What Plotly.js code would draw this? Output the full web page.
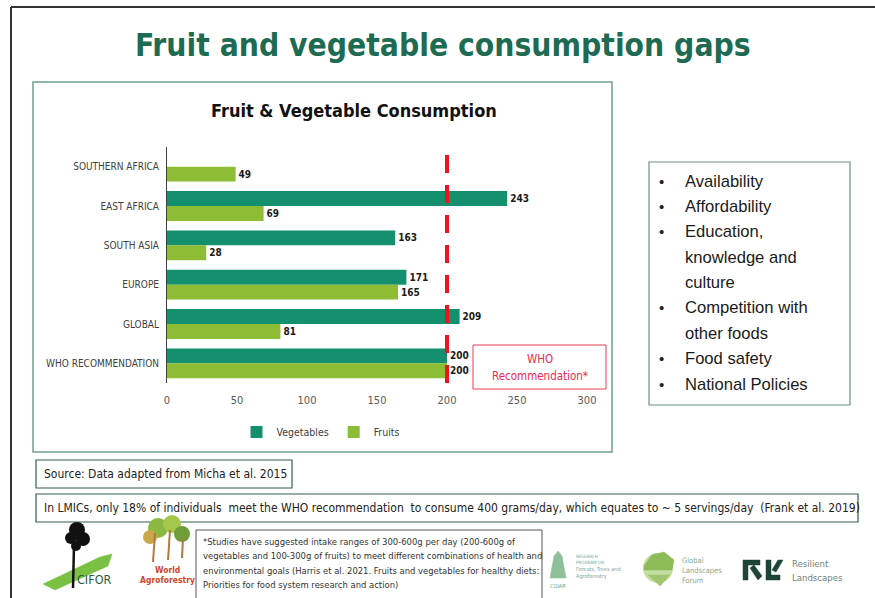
<!DOCTYPE html>
<html>
<head>
<meta charset="utf-8">
<script src="https://cdn.plot.ly/plotly-3.0.1.min.js"></script>
<style>
html,body{margin:0;padding:0;background:#fff;}
#chart{width:875px;height:598px;}
</style>
</head>
<body>
<div id="chart"></div>
<script>
// ---- data ----
const categories = ["SOUTHERN AFRICA", "EAST AFRICA", "SOUTH ASIA", "EUROPE", "GLOBAL", "WHO RECOMMENDATION"];
const vegetables = [null, 243, 163, 171, 209, 200];
const fruits = [49, 69, 28, 165, 81, 200];
const seriesNames = ["Vegetables", "Fruits"];
const whoThreshold = 200;
const xTicks = [0, 50, 100, 150, 200, 250, 300];
const bulletItems = [["Availability"], ["Affordability"], ["Education,", "knowledge and", "culture"], ["Competition with", "other foods"], ["Food safety"], ["National Policies"]];
const footnoteLines = [
  "*Studies have suggested intake ranges of 300-600g per day (200-600g of",
  "vegetables and 100-300g of fruits) to meet different combinations of health and",
  "environmental goals (Harris et al. 2021. Fruits and vegetables for healthy diets:",
  "Priorities for food system research and action)"
];

// ---- geometry helpers (pixel -> paper) ----
const L = 167, R = 587, T = 147, B = 383;
const W = 875, H = 598;
const px = v => (v - L) / (R - L);
const py = v => (B - v) / (B - T);

const NARROW = "'DejaVu Sans Condensed', 'Liberation Sans Narrow', sans-serif";
const ARIAL = "'Liberation Sans', Arial, sans-serif";

const traces = [
  {
    type: "bar", orientation: "h", name: seriesNames[0],
    y: categories, x: vegetables,
    marker: {color: "#14906f"},
    text: vegetables.map(v => v == null ? "" : String(v)),
    textposition: "outside", cliponaxis: false,
    textfont: {family: NARROW, size: 10, color: "#1a1a1a", weight: "bold"},
    hoverinfo: "x+y"
  },
  {
    type: "bar", orientation: "h", name: seriesNames[1],
    y: categories, x: fruits,
    marker: {color: "#8cbd35"},
    text: fruits.map(v => String(v)),
    textposition: "outside", cliponaxis: false,
    textfont: {family: NARROW, size: 10, color: "#1a1a1a", weight: "bold"},
    hoverinfo: "x+y"
  }
];

const shapes = [];
const annotations = [];

function rectPx(x0, y0, x1, y1, color, width, fill) {
  shapes.push({type: "rect", xref: "paper", yref: "paper", x0: px(x0), x1: px(x1), y0: py(y0), y1: py(y1),
    line: {color: color, width: width}, fillcolor: fill || "rgba(0,0,0,0)", layer: "below"});
}
function linePx(x0, y0, x1, y1, color, width) {
  shapes.push({type: "line", xref: "paper", yref: "paper", x0: px(x0), x1: px(x1), y0: py(y0), y1: py(y1),
    line: {color: color, width: width}});
}
function textPx(x, y, text, size, color, family, anchor, bold) {
  annotations.push({xref: "paper", yref: "paper", x: px(x), y: py(y), text: text, showarrow: false,
    xanchor: anchor || "left", yanchor: "middle",
    font: {size: size, color: color, family: family, weight: bold ? "bold" : "normal"}});
}
function pathPx(pts, fill, lineColor) {
  let d = pts.map((p, i) => (i ? "L" : "M") + px(p[0]) + "," + py(p[1])).join(" ") + " Z";
  shapes.push({type: "path", xref: "paper", yref: "paper", path: d, fillcolor: fill,
    line: {color: lineColor || fill, width: 0.5}});
}
function circlePx(cx, cy, r, fill) {
  shapes.push({type: "circle", xref: "paper", yref: "paper", x0: px(cx - r), x1: px(cx + r), y0: py(cy + r), y1: py(cy - r),
    fillcolor: fill, line: {width: 0}});
}

// outer frame
linePx(11, 7, 875, 7, "#333333", 2);
linePx(11, 7, 11, 598, "#333333", 2);

// chart frame
rectPx(33, 82, 612, 452, "#6f9f8f", 1.5);

// WHO threshold line (data coords)
shapes.push({type: "line", xref: "x", yref: "paper", x0: whoThreshold, x1: whoThreshold, y0: 0, y1: py(149),
  line: {color: "#f5101e", width: 4, dash: "18px,12px"}, layer: "above"});

// WHO recommendation box
rectPx(473, 345, 606, 389, "#ee3a55", 1);
textPx(540, 359, "WHO", 11.5, "#f0284e", NARROW, "center");
textPx(540, 376, "Recommendation*", 11.5, "#f0284e", NARROW, "center");

// titles
textPx(443, 45, "Fruit and vegetable consumption gaps", 31.5, "#1d6b52", NARROW, "center", true);
textPx(354, 110, "Fruit &amp; Vegetable Consumption", 18, "#111111", NARROW, "center", true);

// bullet box
rectPx(649, 162, 850, 405, "#6f8f85", 1.2);
let lineY = 181;
bulletItems.forEach(item => {
  item.forEach((ln, i) => {
    if (i === 0) textPx(661, lineY, "•", 15, "#222222", ARIAL, "center");
    textPx(683, lineY, ln, 16.6, "#1a1a1a", ARIAL, "left");
    lineY += 25.4;
  });
});

// source box
rectPx(36, 460, 292, 488, "#2f5e4e", 1.2);
textPx(42, 474, "Source: Data adapted from Micha et al. 2015", 12, "#222222", NARROW, "left");

// LMIC box
rectPx(36, 494, 858, 522, "#2f5e4e", 1.2);
textPx(42, 508, "In LMICs, only 18% of individuals  meet the WHO recommendation  to consume 400 grams/day, which equates to ~ 5 servings/day  (Frank et al. 2019)", 12, "#222222", NARROW, "left");

// footnote box
rectPx(196, 530, 542, 603, "#555555", 1);
footnoteLines.forEach((t, i) => textPx(201, 541 + i * 14.5, t, 9.4, "#333333", NARROW, "left"));

// CIFOR logo (approximation)
pathPx([[43, 584], [100, 557], [112, 554], [108, 566], [55, 590]], "#79c043");
circlePx(77, 530, 8, "#111111");
circlePx(71, 538, 6, "#111111");
circlePx(83, 539, 7, "#111111");
circlePx(76, 546, 5, "#111111");
linePx(74, 545, 73, 588, "#111111", 2.5);
textPx(94, 579, "CIFOR", 12.5, "#2a5a44", NARROW, "center");

// World Agroforestry logo (approximation)
circlePx(158, 528, 10, "#8ab842");
circlePx(172, 524, 9, "#a5c84a");
circlePx(182, 534, 8, "#6e9e38");
circlePx(150, 537, 7, "#c8a64a");
linePx(155, 533, 153, 562, "#b07a3c", 2);
linePx(170, 530, 168, 560, "#b07a3c", 2);
linePx(183, 538, 182, 558, "#b07a3c", 2);
textPx(167, 570, "World", 8.5, "#d2452a", NARROW, "center", true);
textPx(167, 580, "Agroforestry", 8.5, "#d2452a", NARROW, "center", true);

// right-side partner logos (faded approximations)
pathPx([[550, 578], [554, 556], [558, 551], [562, 556], [566, 578]], "#8fc09a");
textPx(558, 586, "CGIAR", 5.5, "#6aa68a", NARROW, "center");
textPx(574, 556, "RESEARCH", 4.5, "#7aa89a", NARROW, "left");
textPx(574, 562, "PROGRAM ON", 4.5, "#7aa89a", NARROW, "left");
textPx(574, 569, "Forests, Trees and", 5.5, "#7aa89a", NARROW, "left");
textPx(574, 576, "Agroforestry", 5.5, "#7aa89a", NARROW, "left");

circlePx(658, 568, 15, "#c3dca0");
pathPx([[644, 566], [652, 555], [664, 552], [674, 560], [672, 570], [644, 570]], "#8dbb57");
pathPx([[648, 575], [670, 575], [660, 586]], "#9fc66e");
textPx(680, 560, "Global", 7.5, "#8aa890", NARROW, "left");
textPx(680, 570, "Landscapes", 7.5, "#8aa890", NARROW, "left");
textPx(680, 580, "Forum", 7.5, "#8aa890", NARROW, "left");

pathPx([[743, 560], [760, 560], [760, 565], [748, 565], [748, 580], [743, 580]], "#1d4436");
pathPx([[750, 568], [754, 565], [762, 576], [758, 580]], "#1d4436");
pathPx([[766, 560], [771, 560], [771, 575], [780, 575], [780, 580], [766, 580]], "#1d4436");
pathPx([[772, 570], [778, 560], [783, 560], [776, 572]], "#1d4436");
textPx(790, 563, "Resilient", 9.5, "#6f7f79", NARROW, "left");
textPx(790, 577, "Landscapes", 9.5, "#6f7f79", NARROW, "left");

const layout = {
  width: W, height: H,
  margin: {l: L, r: W - R, t: T, b: H - B, pad: 0},
  paper_bgcolor: "#ffffff", plot_bgcolor: "rgba(0,0,0,0)",
  barmode: "group", bargap: 0.24, bargroupgap: 0,
  showlegend: true,
  legend: {orientation: "h", x: px(321), xanchor: "center", y: py(432), yanchor: "middle",
    font: {family: NARROW, size: 10.5, color: "#404040"}, bgcolor: "rgba(0,0,0,0)",
    itemwidth: 30, tracegroupgap: 0},
  xaxis: {range: [0, 300], tickvals: xTicks, ticktext: xTicks.map(String), showgrid: false, zeroline: false,
    showline: false, ticks: "", tickfont: {family: NARROW, size: 11, color: "#595959"}, ticklabelstandoff: 9,
    fixedrange: true},
  yaxis: {type: "category", autorange: "reversed", showgrid: false, zeroline: false, showline: true,
    linecolor: "#404040", linewidth: 1, ticks: "", tickfont: {family: NARROW, size: 10, color: "#404040"},
    ticklabelstandoff: 5, fixedrange: true},
  shapes: shapes,
  annotations: annotations,
  font: {family: NARROW}
};

Plotly.newPlot("chart", traces, layout, {displayModeBar: false, staticPlot: true});
</script>
</body>
</html>
